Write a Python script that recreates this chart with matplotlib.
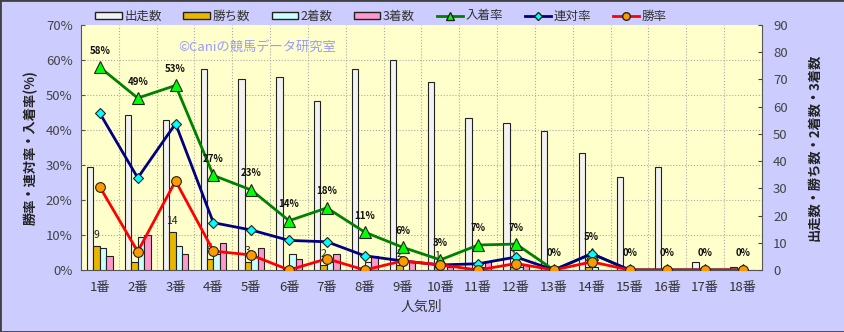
import matplotlib
matplotlib.use("Agg")
import matplotlib.pyplot as plt
from matplotlib.patches import Rectangle, Patch
from matplotlib.lines import Line2D
import numpy as np

plt.rcParams['font.family'] = ['Noto Sans CJK JP', 'DejaVu Sans']

categories = ['1番', '2番', '3番', '4番', '5番', '6番', '7番', '8番', '9番',
              '10番', '11番', '12番', '13番', '14番', '15番', '16番', '17番', '18番']
starts = [38, 57, 55, 74, 70, 71, 62, 74, 77, 69, 56, 54, 51, 43, 34, 38, 3, 1]
wins = [9, 3, 14, 4, 3, 0, 2, 0, 2, 1, 0, 1, 0, 1, 0, 0, 0, 0]
seconds = [8, 12, 9, 6, 5, 6, 3, 3, 0, 0, 1, 1, 0, 1, 0, 0, 0, 0]
thirds = [5, 13, 6, 10, 8, 4, 6, 5, 3, 1, 3, 2, 0, 0, 0, 0, 0, 0]

starts_a = np.array(starts, float)
win_rate = np.array(wins) / starts_a * 100
ren_rate = (np.array(wins) + np.array(seconds)) / starts_a * 100
place_rate = (np.array(wins) + np.array(seconds) + np.array(thirds)) / starts_a * 100

W, H = 845, 332
fig = plt.figure(figsize=(W / 100, H / 100), dpi=100, facecolor='#CCCCFF')
pos = [81 / W, 1 - 270 / H, (762 - 81) / W, (270 - 25) / H]

axb = fig.add_axes(pos)
axl = fig.add_axes(pos, sharex=axb)
axl.patch.set_visible(False)
axb.set_facecolor('#FFFFCC')

x = np.arange(len(categories))
bw = 0.17
bar_specs = [(starts, '#F2F2F2', -1.5), (wins, '#E8B800', -0.5),
             (seconds, '#CCFFFF', 0.5), (thirds, '#FF99CC', 1.5)]
for vals, col, off in bar_specs:
    axb.bar(x + off * bw, vals, bw, color=col, edgecolor='#222222', linewidth=0.8, zorder=3)

for xi, v in zip(x, wins):
    if v > 0:
        axb.text(xi - 0.5 * bw, v + 2.2, str(v), ha='center', va='bottom',
                 fontsize=7.5, color='#222222', zorder=4)

axb.set_xlim(-0.5, len(categories) - 0.5)
axb.set_ylim(0, 90)
axb.yaxis.tick_right()
axb.yaxis.set_label_position('right')
axb.set_yticks(range(0, 91, 10))
axb.tick_params(axis='y', direction='in', length=3, labelsize=9.5, colors='#444444', pad=8)
axb.tick_params(axis='x', length=0, labelsize=9.5, colors='#333333', pad=8)
axb.set_xticks(x)
axb.set_xticklabels(categories)

# grid: horizontal at percent ticks, vertical at category boundaries
for p in range(10, 70, 10):
    axb.plot([0, 1], [p / 70, p / 70], transform=axb.transAxes, color='#AAAAAA',
             linestyle=':', linewidth=0.8, zorder=1)
for b in np.arange(0.5, len(categories) - 0.5, 1):
    axb.axvline(b, color='#AAAAAA', linestyle=':', linewidth=0.8, zorder=1)

axl.set_ylim(0, 70)
axl.set_yticks(range(0, 71, 10))
axl.set_yticklabels([f'{v}%' for v in range(0, 71, 10)])
axl.tick_params(axis='y', direction='in', length=3, color='#555555', labelsize=9.5,
                labelcolor='#444444', pad=6)
axl.tick_params(axis='x', bottom=False, labelbottom=False)

axl.plot(x, place_rate, color='#008000', linewidth=2, marker='^', markersize=8,
         markerfacecolor='#00FF00', markeredgecolor='#222222', markeredgewidth=0.8, zorder=5)
axl.plot(x, ren_rate, color='#000080', linewidth=2, marker='D', markersize=5.5,
         markerfacecolor='#00FFFF', markeredgecolor='#222222', markeredgewidth=0.8, zorder=6)
axl.plot(x, win_rate, color='#FF0000', linewidth=2, marker='o', markersize=7,
         markerfacecolor='#FF9900', markeredgecolor='#222222', markeredgewidth=0.8, zorder=7)

for xi, v in zip(x, place_rate):
    axl.text(xi, v + 3.3, f'{v:.0f}%', ha='center', va='bottom', fontsize=7,
             fontweight='bold', color='#111111', zorder=8)

for ax in (axb, axl):
    for s in ax.spines.values():
        s.set_visible(False)
for side in ('bottom', 'left', 'right'):
    axb.spines[side].set_visible(True)
    axb.spines[side].set_color('#555555')

axl.set_ylabel('勝率・連対率・入着率(%)', fontsize=9.5, color='#222222', labelpad=6,
               fontweight='bold')
axb.set_ylabel('出走数・勝ち数・2着数・3着数', fontsize=9.5, color='#222222',
               rotation=90, labelpad=14, fontweight='bold')
axb.set_xlabel('人気別', fontsize=10, color='#333333', labelpad=4)

axb.text(0.143, 0.91, '©Caniの競馬データ研究室', transform=axb.transAxes, fontsize=9.5,
         color='#9999FF', ha='left', va='center', zorder=2)

handles = [
    Patch(facecolor='#F2F2F2', edgecolor='#222222', label='出走数'),
    Patch(facecolor='#E8B800', edgecolor='#222222', label='勝ち数'),
    Patch(facecolor='#CCFFFF', edgecolor='#222222', label='2着数'),
    Patch(facecolor='#FF99CC', edgecolor='#222222', label='3着数'),
    Line2D([], [], color='#008000', lw=2, marker='^', markersize=5.5,
           markerfacecolor='#00FF00', markeredgecolor='#222222', label='入着率'),
    Line2D([], [], color='#000080', lw=2, marker='D', markersize=4,
           markerfacecolor='#00FFFF', markeredgecolor='#222222', label='連対率'),
    Line2D([], [], color='#FF0000', lw=2, marker='o', markersize=5.5,
           markerfacecolor='#FF9900', markeredgecolor='#222222', label='勝率'),
]
leg = fig.legend(handles=handles, loc='center', bbox_to_anchor=(0.451, 1 - 16 / H), ncol=7,
                 frameon=False, fontsize=9, handlelength=2.1, handleheight=0.5,
                 columnspacing=1.75, handletextpad=0.2)
for t in leg.get_texts():
    t.set_color('#333333')

fig.patches.append(Rectangle((0, 0), 1, 1, transform=fig.transFigure, fill=False,
                             edgecolor='#404040', linewidth=2))

fig.savefig('out.png', dpi=100, facecolor=fig.get_facecolor())
